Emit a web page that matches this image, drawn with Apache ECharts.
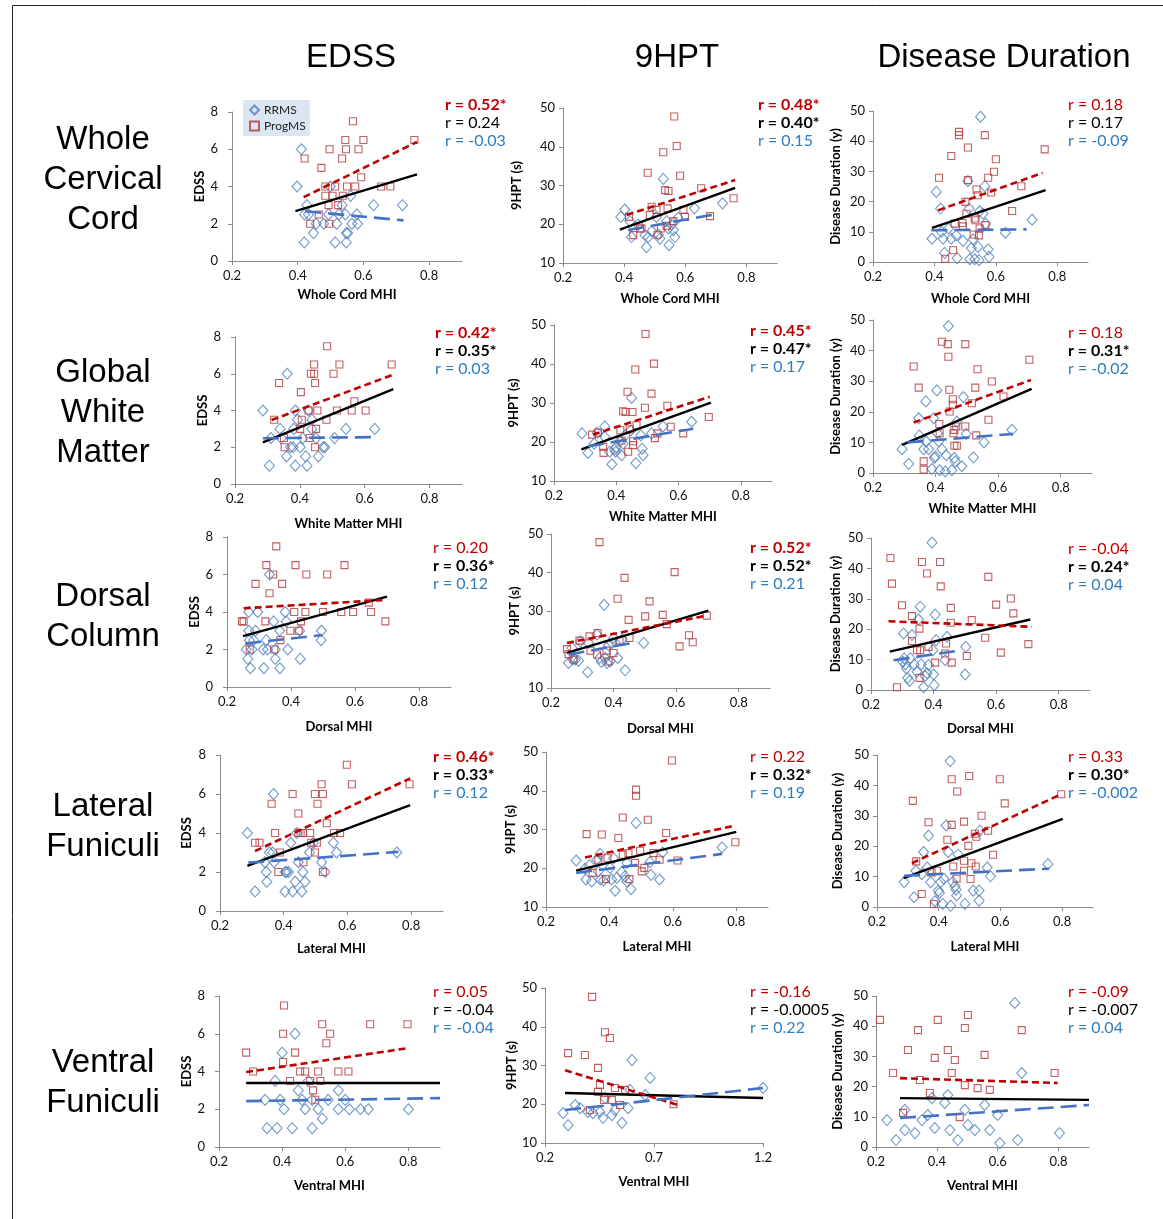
<!DOCTYPE html>
<html><head><meta charset="utf-8">
<script src="https://cdn.jsdelivr.net/npm/echarts@6/dist/echarts.min.js"></script>
<style>html,body{margin:0;padding:0;background:#fff}#c{width:1163px;height:1219px}</style>
</head><body><div id="c"></div>
<script>
// ---------- DATA ----------
const colTitles = ['EDSS', '9HPT', 'Disease Duration'];
const rowTitles = [['Whole','Cervical','Cord'],['Global','White','Matter'],['Dorsal','Column'],['Lateral','Funiculi'],['Ventral','Funiculi']];
const xNames = ['Whole Cord MHI','White Matter MHI','Dorsal MHI','Lateral MHI','Ventral MHI'];
const yNames = ['EDSS','9HPT (s)','Disease Duration (y)'];
const xTicks = [0.2,0.4,0.6,0.8];
const xTicksVentral9 = [0.2,0.7,1.2];
const yTicksEDSS = [0,2,4,6,8];
const yTicks9HPT = [10,20,30,40,50];
const yTicksDD = [0,10,20,30,40,50];

// Whole cord
const wc_edss_rr = [[0.411,6],[0.398,4],[0.428,3],[0.421,2.5],[0.433,2.5],[0.42,1],[0.448,1.5],[0.456,2],[0.479,2],[0.494,2.5],[0.499,4],[0.514,1],[0.519,2],[0.525,2.5],[0.535,3],[0.545,2.5],[0.548,1.5],[0.552,1.5],[0.548,1],[0.561,3.5],[0.565,2],[0.58,2.5],[0.582,2],[0.631,3],[0.719,3]];
const wc_edss_pm = [[0.421,5.5],[0.438,2],[0.464,2.5],[0.472,5],[0.484,3.5],[0.484,4],[0.496,2],[0.497,6],[0.494,3],[0.506,3.5],[0.514,4],[0.523,3],[0.535,5.5],[0.537,3.5],[0.545,6.5],[0.547,6],[0.55,4],[0.568,7.5],[0.575,4],[0.585,6],[0.593,4.5],[0.6,6.5],[0.654,4],[0.682,4],[0.755,6.5]];
const wc_edss_fitAll = [[0.393,2.68],[0.763,4.65]];
const wc_edss_fitPM = [[0.418,3.43],[0.763,6.39]];
const wc_edss_fitRR = [[0.423,2.67],[0.722,2.18]];
const wc_edss_r = ['r = 0.52*','r = 0.24','r = -0.03'];

const wc_hpt_rr = [[0.389,21.9],[0.402,23.8],[0.419,20.8],[0.424,16.7],[0.446,19.9],[0.473,14.1],[0.468,17.2],[0.479,16.7],[0.49,18.2],[0.506,21.9],[0.512,17.3],[0.517,16.3],[0.528,31.7],[0.539,20.8],[0.545,18.9],[0.547,14.6],[0.555,19.9],[0.561,18.5],[0.566,16.7],[0.577,21.7],[0.63,24.1],[0.722,25.4]];
const wc_hpt_pm = [[0.416,21.9],[0.43,17.2],[0.452,18.9],[0.457,18.9],[0.477,33.3],[0.49,24.5],[0.484,22.4],[0.506,23.7],[0.509,17.3],[0.52,18.9],[0.528,38.6],[0.534,28.8],[0.539,19.6],[0.542,24.1],[0.545,28.6],[0.564,47.8],[0.561,20.8],[0.572,40.2],[0.583,32.5],[0.594,23.7],[0.599,21.9],[0.652,29.3],[0.681,22.1],[0.758,26.7]];
const wc_hpt_fitAll = [[0.386,18.6],[0.763,29.4]];
const wc_hpt_fitPM = [[0.408,22.4],[0.763,31.4]];
const wc_hpt_fitRR = [[0.413,18.5],[0.692,22.5]];
const wc_hpt_r = ['r = 0.48*','r = 0.40*','r = 0.15'];

const wc_dd_rr = [[0.392,7.7],[0.406,23.2],[0.42,17.7],[0.423,10],[0.428,7.7],[0.433,3],[0.446,11.1],[0.455,7.7],[0.474,1.3],[0.471,8.8],[0.493,7],[0.509,26.8],[0.513,17.7],[0.52,4.6],[0.515,0.9],[0.526,7.5],[0.531,0.9],[0.542,5],[0.545,0.6],[0.547,16.8],[0.55,48.1],[0.558,16],[0.564,25.1],[0.567,12.7],[0.575,4.2],[0.578,1.7],[0.631,9.7],[0.718,14]];
const wc_dd_pm = [[0.415,27.9],[0.435,1.1],[0.455,35.1],[0.461,3.9],[0.466,12.7],[0.48,43.1],[0.48,42],[0.491,12.9],[0.493,11.8],[0.501,19.9],[0.504,16],[0.509,37.9],[0.509,27.1],[0.528,9.1],[0.531,14.4],[0.534,13.8],[0.537,24],[0.541,22.1],[0.545,8.8],[0.547,11.1],[0.564,42],[0.566,12.2],[0.575,27.9],[0.585,23],[0.594,29.9],[0.6,34],[0.653,16.9],[0.683,25.1],[0.759,37.3]];
const wc_dd_fitAll = [[0.392,11.3],[0.762,23.8]];
const wc_dd_fitPM = [[0.412,17.1],[0.752,29.5]];
const wc_dd_fitRR = [[0.39,10.5],[0.7,10.8]];
const wc_dd_r = ['r = 0.18','r = 0.17','r = -0.09'];

// Global white matter
const gwm_edss_rr = [[0.286,4],[0.306,1],[0.311,2.5],[0.339,3],[0.342,2.5],[0.361,6],[0.359,1.5],[0.371,2],[0.379,2],[0.381,3],[0.386,1],[0.386,4],[0.393,3.5],[0.401,2],[0.409,2.5],[0.418,1.5],[0.422,1],[0.437,3.5],[0.437,3],[0.45,2.5],[0.457,1.5],[0.472,2],[0.477,2],[0.507,2.5],[0.542,3],[0.631,3],[0.427,4]];
const gwm_edss_pm = [[0.321,3.5],[0.336,5.5],[0.351,2.5],[0.353,2],[0.403,5],[0.401,3],[0.406,3.5],[0.427,4],[0.43,2.5],[0.434,6],[0.444,6],[0.444,6.5],[0.447,5.5],[0.45,3],[0.447,2],[0.454,4],[0.484,7.5],[0.482,3.5],[0.504,6],[0.514,4],[0.522,6.5],[0.56,4],[0.568,4.5],[0.603,4],[0.683,6.5]];
const gwm_edss_fitAll = [[0.286,2.27],[0.688,5.16]];
const gwm_edss_fitPM = [[0.313,3.48],[0.683,5.92]];
const gwm_edss_fitRR = [[0.286,2.49],[0.628,2.55]];
const gwm_edss_r = ['r = 0.42*','r = 0.35*','r = 0.03'];

const gwm_hpt_rr = [[0.29,22.2],[0.309,17.2],[0.329,19.6],[0.339,22.4],[0.363,24],[0.363,21.3],[0.379,17.5],[0.386,14.3],[0.395,18.1],[0.398,17.5],[0.4,18.7],[0.411,20.2],[0.417,16.6],[0.422,19.6],[0.429,21.7],[0.449,31.3],[0.447,23],[0.463,14.6],[0.479,21.7],[0.483,18.3],[0.486,16.6],[0.513,22.2],[0.55,24],[0.642,25.2]];
const gwm_hpt_pm = [[0.322,21.9],[0.341,22.4],[0.358,18.7],[0.359,17.2],[0.422,27.9],[0.413,23],[0.417,20.4],[0.43,27.7],[0.436,32.9],[0.443,23.2],[0.438,17.5],[0.452,27.7],[0.461,38.6],[0.454,20.2],[0.454,19.2],[0.465,24.3],[0.492,28.8],[0.494,47.7],[0.513,32.4],[0.521,40.1],[0.524,21],[0.532,22.2],[0.564,29.3],[0.575,23.9],[0.615,22.2],[0.697,26.4]];
const gwm_hpt_fitAll = [[0.288,18.1],[0.704,30.1]];
const gwm_hpt_fitPM = [[0.325,21.9],[0.7,31.6]];
const gwm_hpt_fitRR = [[0.309,18.9],[0.647,23.4]];
const gwm_hpt_r = ['r = 0.45*','r = 0.47*','r = 0.17'];

const gwm_dd_rr = [[0.293,7.8],[0.314,3],[0.346,17.9],[0.348,12.2],[0.362,7.8],[0.369,23.4],[0.37,10.3],[0.378,7.8],[0.388,1.3],[0.394,17.9],[0.396,4.9],[0.399,5.4],[0.404,27],[0.406,13],[0.41,10.3],[0.413,0.9],[0.42,7.8],[0.431,0.5],[0.434,5.8],[0.441,48],[0.452,0.9],[0.46,4.9],[0.463,3.8],[0.468,16.8],[0.484,2.2],[0.489,24.8],[0.498,12.8],[0.521,5.1],[0.555,10],[0.644,14.1]];
const gwm_dd_pm = [[0.33,34.8],[0.346,27.9],[0.362,3.8],[0.362,1.1],[0.412,16],[0.413,13],[0.42,42.9],[0.439,42.1],[0.441,38],[0.444,27.2],[0.445,20.1],[0.455,24.1],[0.455,22.3],[0.46,14.1],[0.457,13],[0.46,8.9],[0.468,8.9],[0.466,15.2],[0.495,42.1],[0.495,15.2],[0.516,22.8],[0.527,27.9],[0.53,12.3],[0.534,33.9],[0.58,29.9],[0.569,17.4],[0.617,25],[0.7,37]];
const gwm_dd_fitAll = [[0.293,9.2],[0.707,27.5]];
const gwm_dd_fitPM = [[0.33,16.5],[0.705,30.4]];
const gwm_dd_fitRR = [[0.311,10],[0.647,12.8]];
const gwm_dd_r = ['r = 0.18','r = 0.31*','r = -0.02'];

// Dorsal column
const dc_edss_rr = [[0.26,2],[0.265,1.5],[0.268,3],[0.27,2.5],[0.273,1],[0.268,4],[0.278,2],[0.283,2.5],[0.289,3],[0.296,4],[0.313,2],[0.315,1],[0.323,2.5],[0.327,2],[0.333,6],[0.346,3.5],[0.351,1.5],[0.351,2],[0.365,3],[0.365,1],[0.382,4],[0.385,3.5],[0.39,2],[0.427,3],[0.429,1.5],[0.494,2.5],[0.495,3]];
const dc_edss_pm = [[0.247,3.5],[0.252,3.5],[0.271,2],[0.289,5.5],[0.32,3.5],[0.323,6.5],[0.333,5],[0.344,6],[0.348,2],[0.354,7.5],[0.367,2.5],[0.372,5.5],[0.398,3],[0.41,4],[0.414,6.5],[0.424,3],[0.431,3.5],[0.445,4],[0.448,6],[0.5,4],[0.513,6],[0.557,4],[0.567,6.5],[0.594,4],[0.643,4.5],[0.65,4],[0.695,3.5]];
const dc_edss_fitAll = [[0.25,2.71],[0.7,4.82]];
const dc_edss_fitPM = [[0.252,4.2],[0.69,4.64]];
const dc_edss_fitRR = [[0.257,2.32],[0.497,2.77]];
const dc_edss_r = ['r = 0.20','r = 0.36*','r = 0.12'];

const dc_hpt_rr = [[0.256,16.5],[0.267,20.4],[0.27,17.4],[0.278,17.4],[0.288,17.1],[0.294,22.1],[0.317,14.1],[0.32,21.7],[0.347,23.9],[0.355,17.8],[0.361,16.8],[0.37,31.6],[0.373,17.8],[0.379,16.5],[0.384,21.1],[0.389,16.9],[0.395,21.7],[0.4,23],[0.413,17.8],[0.427,22.6],[0.437,14.6],[0.496,21.7]];
const dc_hpt_pm = [[0.251,20.1],[0.256,18.8],[0.272,17.4],[0.291,22.3],[0.323,23.4],[0.326,19.7],[0.347,18.7],[0.349,24.3],[0.355,47.9],[0.384,16.9],[0.377,19.7],[0.4,19.1],[0.413,33.2],[0.419,22.3],[0.435,38.6],[0.448,27.7],[0.451,23],[0.501,28.6],[0.515,32.5],[0.557,29],[0.57,26.6],[0.595,40.1],[0.611,20.8],[0.641,23.7],[0.653,21.9],[0.698,28.8]];
const dc_hpt_fitAll = [[0.251,19.1],[0.703,30.1]];
const dc_hpt_fitPM = [[0.251,21.7],[0.698,28.8]];
const dc_hpt_fitRR = [[0.256,18.7],[0.474,21.9]];
const dc_hpt_r = ['r = 0.52*','r = 0.52*','r = 0.21'];

const dc_dd_rr = [[0.302,9.3],[0.304,18.6],[0.306,10.4],[0.31,8.4],[0.313,7.1],[0.317,4],[0.323,3],[0.326,10.4],[0.331,18.1],[0.338,8.4],[0.347,6],[0.352,23.2],[0.357,27.4],[0.36,8.4],[0.368,0.9],[0.373,4.6],[0.379,5.5],[0.384,8.2],[0.395,48.5],[0.398,13.1],[0.4,5.1],[0.402,1.6],[0.405,24.8],[0.408,16.4],[0.443,17.5],[0.437,9.8],[0.501,5.1],[0.503,14.2]];
const dc_dd_pm = [[0.262,43.4],[0.267,35],[0.283,0.9],[0.299,27.9],[0.331,24.3],[0.331,16.1],[0.347,13.1],[0.357,13.1],[0.355,4],[0.355,20.2],[0.363,42.1],[0.379,38.3],[0.384,14.2],[0.405,9],[0.421,42.1],[0.423,34.1],[0.437,12],[0.44,15.3],[0.455,27],[0.455,22.1],[0.458,9],[0.506,11.2],[0.522,23],[0.565,17.2],[0.575,37.2],[0.6,28.1],[0.615,12.3],[0.647,30.1],[0.655,25.2],[0.703,15.1]];
const dc_dd_fitAll = [[0.26,12.6],[0.709,23.2]];
const dc_dd_fitPM = [[0.256,22.6],[0.714,20.8]];
const dc_dd_fitRR = [[0.272,9.8],[0.49,13.1]];
const dc_dd_r = ['r = -0.04','r = 0.24*','r = 0.04'];

// Lateral funiculi
const lf_edss_rr = [[0.286,4],[0.31,1],[0.341,2.5],[0.345,2],[0.347,1.5],[0.355,3],[0.368,6],[0.365,3],[0.37,2.5],[0.404,2],[0.404,1],[0.409,2],[0.415,2],[0.422,3.5],[0.428,1],[0.436,1.5],[0.441,4],[0.446,2.5],[0.457,1],[0.46,2],[0.467,1.5],[0.481,3],[0.493,3.5],[0.519,2.5],[0.53,2],[0.556,3.5],[0.566,3],[0.755,3]];
const lf_edss_pm = [[0.31,3.5],[0.324,3.5],[0.362,5.5],[0.373,4],[0.388,3],[0.383,2],[0.428,6],[0.446,4],[0.446,5],[0.453,4],[0.462,2.5],[0.46,4],[0.483,4],[0.486,3.5],[0.498,6],[0.498,3],[0.504,3.5],[0.506,5.5],[0.519,6.5],[0.523,6],[0.523,2],[0.535,4.5],[0.558,4],[0.577,4],[0.598,7.5],[0.614,6.5],[0.795,6.5]];
const lf_edss_fitAll = [[0.286,2.31],[0.797,5.43]];
const lf_edss_fitPM = [[0.31,3.07],[0.797,6.8]];
const lf_edss_fitRR = [[0.289,2.48],[0.76,3.03]];
const lf_edss_r = ['r = 0.46*','r = 0.33*','r = 0.12'];

const lf_hpt_rr = [[0.295,22],[0.323,19.9],[0.326,17.1],[0.337,20.8],[0.344,16.6],[0.36,22.2],[0.365,19.2],[0.371,23.7],[0.371,17.1],[0.381,16.8],[0.402,20.1],[0.407,17.1],[0.413,22.6],[0.418,14.2],[0.423,17.5],[0.439,19],[0.449,17.9],[0.455,16.6],[0.455,21.4],[0.468,14.6],[0.484,31.7],[0.528,21.6],[0.531,18.3],[0.558,17.1],[0.568,24.1],[0.755,25.4]];
const lf_hpt_pm = [[0.328,28.8],[0.347,18.8],[0.365,22.2],[0.376,28.7],[0.389,17.2],[0.394,22.6],[0.428,27.8],[0.442,33.1],[0.442,23.5],[0.46,23.9],[0.463,17.2],[0.484,40.3],[0.484,38.7],[0.481,21.4],[0.497,24.5],[0.502,19.2],[0.51,20.1],[0.521,32.5],[0.539,23.9],[0.579,29.1],[0.597,47.8],[0.615,22],[0.558,22.2],[0.797,26.7]];
const lf_hpt_fitAll = [[0.295,19.4],[0.8,29.4]];
const lf_hpt_fitPM = [[0.323,22.8],[0.797,31]];
const lf_hpt_fitRR = [[0.295,18.8],[0.755,23.7]];
const lf_hpt_r = ['r = 0.22','r = 0.32*','r = 0.19'];

const lf_dd_rr = [[0.288,8.2],[0.32,3.2],[0.326,11.9],[0.345,10.8],[0.351,18.1],[0.363,13],[0.367,23.5],[0.374,8.2],[0.388,1.9],[0.399,5.4],[0.402,4.6],[0.406,8.2],[0.413,1],[0.417,9.3],[0.424,26.8],[0.431,18.1],[0.437,48],[0.439,0.4],[0.445,8.2],[0.453,6.8],[0.456,5.7],[0.458,3.8],[0.463,17.2],[0.485,1],[0.512,5.4],[0.531,5.4],[0.531,2.1],[0.533,25.1],[0.557,13],[0.568,10.1],[0.754,14.1]];
const lf_dd_pm = [[0.316,34.9],[0.327,15],[0.345,4.3],[0.367,27.9],[0.377,11.4],[0.394,11.9],[0.385,1],[0.428,22.1],[0.442,42],[0.442,27],[0.46,38],[0.447,13.3],[0.458,9.3],[0.482,28.1],[0.482,15.2],[0.482,11.9],[0.499,43.1],[0.496,20.1],[0.503,9.2],[0.506,14.4],[0.517,24.1],[0.52,13.3],[0.539,30],[0.56,25.1],[0.576,17.2],[0.598,42],[0.614,34.1],[0.797,37.1],[0.522,23.1]];
const lf_dd_fitAll = [[0.286,9.5],[0.802,29]];
const lf_dd_fitPM = [[0.313,14.4],[0.797,37.1]];
const lf_dd_fitRR = [[0.288,10.3],[0.757,12.6]];
const lf_dd_r = ['r = 0.33','r = 0.30*','r = -0.002'];

// Ventral funiculi
const vf_edss_rr = [[0.346,2.5],[0.352,1],[0.384,1],[0.394,2.5],[0.406,2],[0.432,1],[0.441,6],[0.451,3],[0.463,2.5],[0.473,2],[0.483,3.5],[0.495,2.5],[0.514,2],[0.495,1],[0.527,1.5],[0.546,2.5],[0.578,2],[0.6,2.5],[0.613,2],[0.578,3],[0.648,2],[0.673,2],[0.8,2],[0.378,3.5],[0.4,5]];
const vf_edss_pm = [[0.286,5],[0.308,4],[0.406,7.5],[0.403,6],[0.403,4.5],[0.425,3.5],[0.473,4],[0.489,3.5],[0.498,3],[0.514,4],[0.521,3.5],[0.527,6.5],[0.552,6],[0.578,4],[0.61,4],[0.679,6.5],[0.797,6.5],[0.441,5],[0.457,4],[0.505,2.5],[0.54,5.5]];
const vf_edss_fitAll = [[0.286,3.39],[0.9,3.39]];
const vf_edss_fitPM = [[0.286,3.97],[0.8,5.24]];
const vf_edss_fitRR = [[0.286,2.43],[0.9,2.59]];
const vf_edss_r = ['r = 0.05','r = -0.04','r = -0.04'];

const vf_hpt_rr = [[0.283,17.7],[0.306,14.6],[0.361,19],[0.397,18],[0.42,17.7],[0.452,18],[0.475,21.6],[0.507,17.2],[0.521,18.5],[0.553,15.2],[0.581,19],[0.59,23.7],[0.599,31.4],[0.659,22.4],[0.682,26.8],[1.2,24.2],[0.338,19.8],[0.466,16.5]];
const vf_hpt_pm = [[0.306,33.2],[0.383,32.7],[0.416,47.7],[0.443,29.4],[0.452,25],[0.475,38.6],[0.498,37.1],[0.471,21.1],[0.507,21.1],[0.544,19.8],[0.521,24.2],[0.443,23.2],[0.406,18.5],[0.567,23.7],[0.79,20]];
const vf_hpt_fitAll = [[0.292,22.9],[1.2,21.6]];
const vf_hpt_fitPM = [[0.292,28.8],[0.81,19.8]];
const vf_hpt_fitRR = [[0.292,18.5],[1.2,24.2]];
const vf_hpt_r = ['r = -0.16','r = -0.0005','r = 0.22'];

const vf_dd_rr = [[0.236,8.9],[0.266,2.3],[0.295,5.6],[0.295,12.3],[0.328,4.6],[0.351,8.9],[0.37,10.6],[0.384,16.2],[0.393,6.3],[0.426,14.6],[0.443,5.6],[0.469,2.3],[0.492,12.3],[0.502,7.3],[0.525,5.6],[0.557,13.9],[0.574,5.6],[0.6,10.6],[0.607,1.3],[0.656,47.7],[0.666,2.3],[0.679,24.5],[0.803,4.6],[0.436,17.2]];
const vf_dd_pm = [[0.213,42.1],[0.256,24.5],[0.289,11.3],[0.305,32.1],[0.338,38.7],[0.344,22.2],[0.393,29.5],[0.403,42.1],[0.377,17.9],[0.436,32.1],[0.449,24.5],[0.459,28.8],[0.475,9.9],[0.492,39.4],[0.502,43.7],[0.492,20.5],[0.534,19.5],[0.557,30.5],[0.574,18.9],[0.679,38.7],[0.787,24.5]];
const vf_dd_fitAll = [[0.279,16.2],[0.9,15.6]];
const vf_dd_fitPM = [[0.279,22.8],[0.797,21.2]];
const vf_dd_fitRR = [[0.279,9.6],[0.9,13.9]];
const vf_dd_r = ['r = -0.09','r = -0.007','r = 0.04'];

// ---------- LAYOUT ----------
// [left, top, right, bottom, yNameCenterX, xNameCenterY, rLeft, rTopCenter]
const L = [
  [232,112,462,261, 204,295, 445,105],
  [563,108,777,263, 516,299, 758,105],
  [873,111,1088,262, 835,299, 1068,105],
  [235,337,462,484, 203,524, 435,333],
  [554,325,772,481, 513,517, 750,331],
  [873,320,1092,473, 835,509, 1068,333],
  [227,537,451,687, 195,727, 433,548],
  [551,534,770,688, 514,729, 750,548],
  [871,538,1090,690, 835,729, 1068,549],
  [220,755,443,911, 186,949, 433,757],
  [546,752,768,907, 510,947, 750,757],
  [877,755,1093,907, 837,947, 1068,757],
  [219,996,440,1147, 186,1186, 433,992],
  [545,988,763,1143, 511,1182, 750,992],
  [876,996,1089,1147, 837,1186, 1068,992]
];
const rowTitleY = [[140,180,220],[373,413,453],[597,637],[807,847],[1063,1103]];
const colTitleX = [351,677,1004];

const panelData = [
  [wc_edss_rr,wc_edss_pm,wc_edss_fitAll,wc_edss_fitPM,wc_edss_fitRR,wc_edss_r],
  [wc_hpt_rr,wc_hpt_pm,wc_hpt_fitAll,wc_hpt_fitPM,wc_hpt_fitRR,wc_hpt_r],
  [wc_dd_rr,wc_dd_pm,wc_dd_fitAll,wc_dd_fitPM,wc_dd_fitRR,wc_dd_r],
  [gwm_edss_rr,gwm_edss_pm,gwm_edss_fitAll,gwm_edss_fitPM,gwm_edss_fitRR,gwm_edss_r],
  [gwm_hpt_rr,gwm_hpt_pm,gwm_hpt_fitAll,gwm_hpt_fitPM,gwm_hpt_fitRR,gwm_hpt_r],
  [gwm_dd_rr,gwm_dd_pm,gwm_dd_fitAll,gwm_dd_fitPM,gwm_dd_fitRR,gwm_dd_r],
  [dc_edss_rr,dc_edss_pm,dc_edss_fitAll,dc_edss_fitPM,dc_edss_fitRR,dc_edss_r],
  [dc_hpt_rr,dc_hpt_pm,dc_hpt_fitAll,dc_hpt_fitPM,dc_hpt_fitRR,dc_hpt_r],
  [dc_dd_rr,dc_dd_pm,dc_dd_fitAll,dc_dd_fitPM,dc_dd_fitRR,dc_dd_r],
  [lf_edss_rr,lf_edss_pm,lf_edss_fitAll,lf_edss_fitPM,lf_edss_fitRR,lf_edss_r],
  [lf_hpt_rr,lf_hpt_pm,lf_hpt_fitAll,lf_hpt_fitPM,lf_hpt_fitRR,lf_hpt_r],
  [lf_dd_rr,lf_dd_pm,lf_dd_fitAll,lf_dd_fitPM,lf_dd_fitRR,lf_dd_r],
  [vf_edss_rr,vf_edss_pm,vf_edss_fitAll,vf_edss_fitPM,vf_edss_fitRR,vf_edss_r],
  [vf_hpt_rr,vf_hpt_pm,vf_hpt_fitAll,vf_hpt_fitPM,vf_hpt_fitRR,vf_hpt_r],
  [vf_dd_rr,vf_dd_pm,vf_dd_fitAll,vf_dd_fitPM,vf_dd_fitRR,vf_dd_r]
];

const AX = '#8c8c8c';
const RED_TXT = '#c00000', BLUE_TXT = '#2e7dbf';
const grids = [], xAxes = [], yAxes = [], series = [], graphics = [];

panelData.forEach((pd, i) => {
  const row = Math.floor(i / 3), col = i % 3;
  const [l, t, r, b, yNx, xNy, rl, rt] = L[i];
  grids.push({left: l, top: t, width: r - l, height: b - t});
  const isV9 = (row === 4 && col === 1);
  const xt = isV9 ? xTicksVentral9 : xTicks;
  xAxes.push({
    gridIndex: i, type: 'value', min: 0.2, max: isV9 ? 1.2 : 0.9,
    axisLine: {show: true, onZero: false, lineStyle: {color: AX, width: 1}},
    axisTick: {show: true, inside: false, length: 4, customValues: xt, lineStyle: {color: AX}},
    axisLabel: {customValues: xt, formatter: v => v.toFixed(1), fontFamily: 'Lato', fontSize: 13, color: '#111', margin: 8},
    splitLine: {show: false},
    name: xNames[row], nameLocation: 'middle', nameGap: xNy - b - 7,
    nameTextStyle: {fontFamily: 'Lato', fontWeight: 'bold', fontSize: 13, color: '#000'}
  });
  const yt = col === 0 ? yTicksEDSS : (col === 1 ? yTicks9HPT : yTicksDD);
  yAxes.push({
    gridIndex: i, type: 'value', min: yt[0], max: yt[yt.length - 1],
    axisLine: {show: true, onZero: false, lineStyle: {color: AX, width: 1}},
    axisTick: {show: true, inside: false, length: 4, customValues: yt, lineStyle: {color: AX}},
    axisLabel: {customValues: yt, fontFamily: 'Lato', fontSize: 13, color: '#111', margin: col === 0 ? 14 : 8},
    splitLine: {show: false},
    name: yNames[col], nameLocation: 'middle', nameRotate: 90, nameGap: l - yNx - 7,
    nameTextStyle: {fontFamily: 'Lato', fontWeight: 'bold', fontSize: 13, color: '#000'}
  });
  const [rr, pm, fa, fp, fr, rt3] = pd;
  series.push({type: 'scatter', name: 'RRMS', xAxisIndex: i, yAxisIndex: i, data: rr,
    symbol: 'diamond', symbolSize: [10, 11], silent: true,
    itemStyle: {color: 'rgba(255,255,255,0)', borderColor: '#4f81bd', borderWidth: 1.1}, z: 2});
  series.push({type: 'scatter', name: 'ProgMS', xAxisIndex: i, yAxisIndex: i, data: pm,
    symbol: 'rect', symbolSize: 7, silent: true,
    itemStyle: {color: 'rgba(255,255,255,0)', borderColor: '#b3383b', borderWidth: 1.1}, z: 2});
  series.push({type: 'line', name: 'fitAll' + i, xAxisIndex: i, yAxisIndex: i, data: fa, symbol: 'none', silent: true,
    lineStyle: {color: '#000', width: 2.4}, z: 4});
  series.push({type: 'line', name: 'fitPM' + i, xAxisIndex: i, yAxisIndex: i, data: fp, symbol: 'none', silent: true,
    lineStyle: {color: '#c00000', width: 2.6, type: [7, 4]}, z: 4});
  series.push({type: 'line', name: 'fitRR' + i, xAxisIndex: i, yAxisIndex: i, data: fr, symbol: 'none', silent: true,
    lineStyle: {color: '#4472c4', width: 2.6, type: [16, 7]}, z: 4});
  const cols = [RED_TXT, '#000', BLUE_TXT];
  rt3.forEach((txt, k) => {
    graphics.push({type: 'text', x: rl, y: rt + k * 18, silent: true,
      style: {text: txt, fill: cols[k], font: (txt.indexOf('*') >= 0 ? 'bold ' : '') + '16px Lato',
        align: 'left', verticalAlign: 'middle', textAlign: 'left', textVerticalAlign: 'middle'}});
  });
});

colTitles.forEach((t, k) => {
  graphics.push({type: 'text', x: colTitleX[k], y: 58, silent: true,
    style: {text: t, fill: '#000', font: '33px "Liberation Sans"', align: 'center', verticalAlign: 'middle', textAlign: 'center', textVerticalAlign: 'middle'}});
});
rowTitles.forEach((lines, r) => {
  lines.forEach((t, k) => {
    graphics.push({type: 'text', x: 103, y: rowTitleY[r][k], silent: true,
      style: {text: t, fill: '#000', font: '33px "Liberation Sans"', align: 'center', verticalAlign: 'middle', textAlign: 'center', textVerticalAlign: 'middle'}});
  });
});
graphics.push({type: 'polyline', silent: true, shape: {points: [[12.5, 1219], [12.5, 5.5], [1163, 5.5]]},
  style: {fill: 'none', stroke: '#222', lineWidth: 1}});

const chart = echarts.init(document.getElementById('c'), null, {renderer: 'canvas'});
chart.setOption({
  animation: false,
  backgroundColor: '#fff',
  grid: grids, xAxis: xAxes, yAxis: yAxes, series: series,
  legend: {data: ['RRMS', 'ProgMS'], left: 243, top: 100, orient: 'vertical', selectedMode: false,
    backgroundColor: '#dce6f2', padding: [4, 4, 4, 6], itemGap: 4, itemWidth: 9, itemHeight: 9,
    textStyle: {fontFamily: 'Lato', fontSize: 12, color: '#222'}},
  graphic: graphics
});
</script></body></html>
